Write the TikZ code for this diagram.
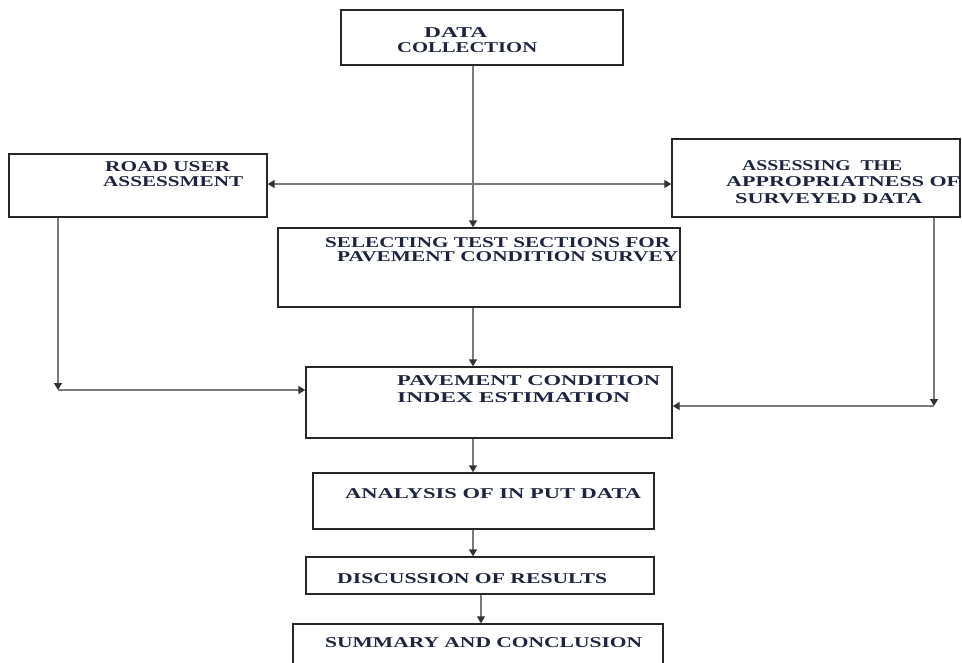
\documentclass[tikz,border=0pt]{standalone}
\usepackage{fontspec}
\usepackage{graphicx}
\setmainfont{Liberation Serif}
\usetikzlibrary{arrows.meta}
\definecolor{txtc}{HTML}{1E2440}
\definecolor{linec}{HTML}{7A7A7A}
\newcommand{\fitto}[2]{\resizebox{#1pt}{\height}{#2}}
\tikzset{
  box/.style={draw=black!85, line width=1.4pt, inner sep=0pt},
  lbl/.style={anchor=base west, inner sep=0pt, text=txtc, font=\fontsize{15}{17}\selectfont\bfseries},
  conn/.style={draw=linec, line width=1.5pt},
  arr/.style={conn, -{Triangle[length=7pt,width=8pt,color=black!80]}},
  darr/.style={conn, {Triangle[length=7pt,width=8pt,color=black!80]}-{Triangle[length=7pt,width=8pt,color=black!80]}}
}
\begin{document}
\begin{tikzpicture}[x=1pt,y=-1pt]
\useasboundingbox (0,0) rectangle (962,662);
\clip (0,0) rectangle (962,662);
% boxes
\node[box, minimum width=282pt, minimum height=55pt] (dc) at (482,37.5) {};
\node[box, minimum width=258pt, minimum height=63pt] (ru) at (138,185.5) {};
\node[box, minimum width=288pt, minimum height=78pt] (as) at (816,178) {};
\node[box, minimum width=402pt, minimum height=79pt] (sel) at (479,267.5) {};
\node[box, minimum width=366pt, minimum height=71pt] (pci) at (489,402.5) {};
\node[box, minimum width=341pt, minimum height=56pt] (an) at (483.5,501) {};
\node[box, minimum width=348pt, minimum height=37pt] (dis) at (480,575.5) {};
\node[box, minimum width=370pt, minimum height=60pt] (sum) at (478,654) {};
% texts
\node[lbl] (t1) at (424,37) {\fitto{63}{DATA}};
\node[lbl] (t2) at (397,52) {\fitto{140}{COLLECTION}};
\node[lbl] (t3) at (105,171) {\fitto{125}{ROAD USER}};
\node[lbl] (t4) at (103,186) {\fitto{140}{ASSESSMENT}};
\node[lbl] (t5) at (742,170) {\fitto{160}{ASSESSING\ \ THE}};
\node[lbl] (t6) at (726,186) {\fitto{234}{APPROPRIATNESS OF}};
\node[lbl] (t7) at (735,203) {\fitto{187}{SURVEYED DATA}};
\node[lbl] (t8) at (325,247) {\fitto{345}{SELECTING TEST SECTIONS FOR}};
\node[lbl] (t9) at (337,261) {\fitto{341}{PAVEMENT CONDITION SURVEY}};
\node[lbl] (t10) at (397,385) {\fitto{263}{PAVEMENT CONDITION}};
\node[lbl] (t11) at (397,402) {\fitto{233}{INDEX ESTIMATION}};
\node[lbl] (t12) at (345,498) {\fitto{296}{ANALYSIS OF IN PUT DATA}};
\node[lbl] (t13) at (337,583) {\fitto{270}{DISCUSSION OF RESULTS}};
\node[lbl] (t14) at (325,647) {\fitto{317}{SUMMARY AND CONCLUSION}};
% helper coordinates
\coordinate (mx) at (473,0);
\coordinate (hy) at (0,184);
\coordinate (lc) at (58,390);
\coordinate (rc) at (934,406);
\coordinate (bx) at (481,0);
% connectors
\draw[arr] (dc.south -| mx) -- (sel.north -| mx);
\draw[darr] (ru.east |- hy) -- (as.west |- hy);
\draw[arr] (ru.south -| lc) -- (lc);
\draw[arr] (lc) -- (pci.west |- lc);
\draw[arr] (as.south -| rc) -- (rc);
\draw[arr] (rc) -- (pci.east |- rc);
\draw[arr] (sel.south -| mx) -- (pci.north -| mx);
\draw[arr] (pci.south -| mx) -- (an.north -| mx);
\draw[arr] (an.south -| mx) -- (dis.north -| mx);
\draw[arr] (dis.south -| bx) -- (sum.north -| bx);
\end{tikzpicture}
\end{document}
